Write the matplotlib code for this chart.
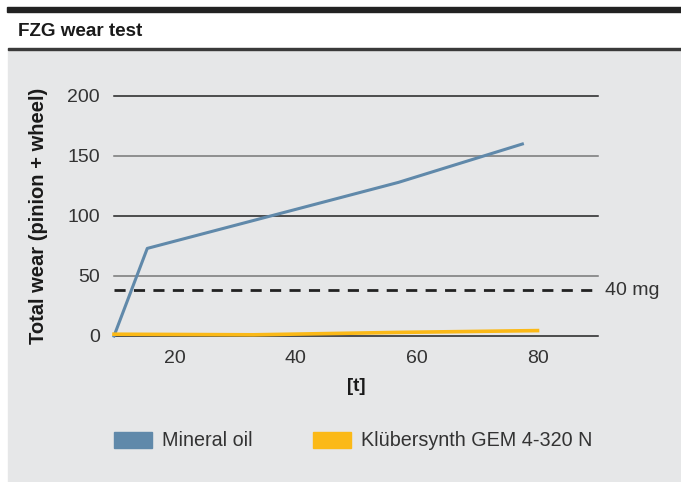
import matplotlib.pyplot as plt
from matplotlib.patches import Rectangle

plt.rcParams['font.family'] = ['Liberation Sans', 'DejaVu Sans']

# Data
mineral_x = [10, 15.5, 57, 77.5]
mineral_y = [0, 73, 128, 160]
kluber_x = [10, 33, 57, 80]
kluber_y = [1.5, 1, 3, 4.5]
limit_value = 38
limit_label = '40 mg'
y_ticks = [0, 50, 100, 150, 200]
x_ticks = [20, 40, 60, 80]

blue = '#6089aa'
yellow = '#fbb917'
bg = '#e6e7e8'
text_color = '#333333'

W, H = 681, 482
fig = plt.figure(figsize=(W / 100, H / 100), dpi=100)

# Frame: black bar on top, title, gray panel
fig.patches.append(Rectangle((7 / W, 1 - 12 / H), 1 - 7 / W, 5 / H, transform=fig.transFigure,
                             color='#222222', zorder=0))
fig.patches.append(Rectangle((8 / W, 0), 1 - 8 / W, 1 - 49 / H, transform=fig.transFigure,
                             color=bg, zorder=0))
fig.patches.append(Rectangle((8 / W, 1 - 50 / H), 1 - 8 / W, 2 / H, transform=fig.transFigure,
                             color='#3a3a3a', zorder=0))
fig.text(18 / W, 1 - 31 / H, 'FZG wear test', fontsize=13.6, fontweight='bold',
         color='#1a1a1a', va='center', ha='left')

ax = fig.add_axes([114 / W, 1 - 336 / H, (598 - 114) / W, 240 / H])
ax.set_zorder(2)
ax.set_facecolor('none')
ax.set_xlim(10, 90)
ax.set_ylim(0, 200)

# gridlines
for v in y_ticks:
    c = '#222222' if v % 100 == 0 else '#777777'
    ax.axhline(v, color=c, lw=1.1, zorder=1, clip_on=False)

ax.plot(mineral_x, mineral_y, color=blue, lw=2.2, zorder=3, clip_on=False)
ax.plot(kluber_x, kluber_y, color=yellow, lw=2.6, zorder=3, clip_on=False)
ax.axhline(limit_value, color='#222222', lw=2, ls=(0, (4, 3)), zorder=2)
ax.text(91.2, limit_value, limit_label, fontsize=14, color=text_color, va='center', ha='left')

for s in ax.spines.values():
    s.set_visible(False)
ax.set_yticks(y_ticks)
ax.set_xticks(x_ticks)
ax.tick_params(length=0, labelsize=14, labelcolor=text_color)
ax.tick_params(axis='y', pad=10)
ax.tick_params(axis='x', pad=10)
ax.set_xlabel('[t]', fontsize=13.5, fontweight='bold', color='#1a1a1a', labelpad=8)
ax.set_ylabel('Total wear (pinion + wheel)', fontsize=14.5, fontweight='bold',
              color='#1a1a1a', labelpad=14)

# Legend
fig.patches.append(Rectangle((114 / W, 1 - 448 / H), 38 / W, 16 / H, transform=fig.transFigure,
                             color=blue, zorder=1))
fig.text(162 / W, 1 - 441 / H, 'Mineral oil', fontsize=14.2, color=text_color, va='center')
fig.patches.append(Rectangle((313 / W, 1 - 448 / H), 38 / W, 16 / H, transform=fig.transFigure,
                             color=yellow, zorder=1))
fig.text(361 / W, 1 - 441 / H, 'Klübersynth GEM 4-320 N', fontsize=14.2, color=text_color,
         va='center')

fig.savefig('out.png', dpi=100, facecolor='white')
